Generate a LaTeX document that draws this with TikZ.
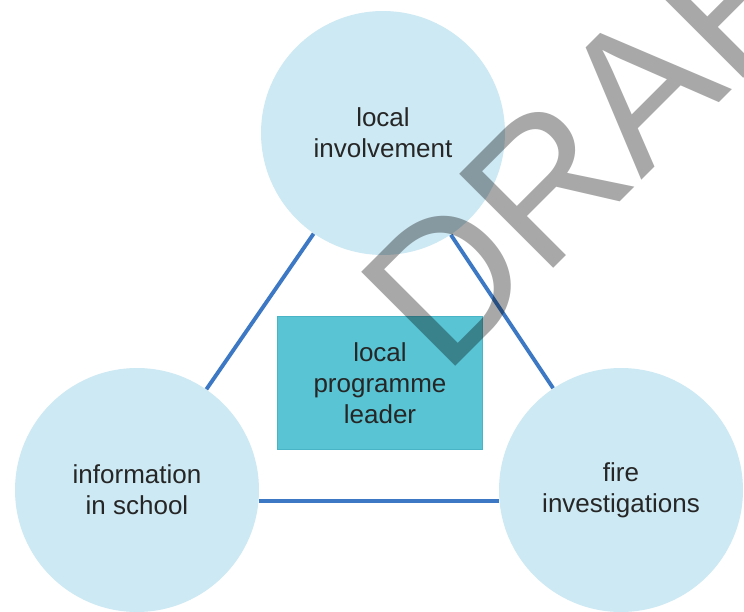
\documentclass[tikz,border=0pt]{standalone}
\usepackage{fontspec}
\setmainfont{Liberation Sans}
\usepackage{tikz}
\usetikzlibrary{positioning}
\definecolor{bubblefill}{RGB}{205,233,243}
\definecolor{leaderfill}{RGB}{88,196,212}
\definecolor{leaderedge}{RGB}{72,180,198}
\definecolor{linkblue}{RGB}{60,120,196}
\definecolor{draftgray}{RGB}{168,168,168}
\tikzstyle{topic} = [circle, minimum size=4.88cm, inner sep=0pt, fill=bubblefill, text=black!85, align=center, font=\fontsize{14.8}{17.6}\selectfont]
\tikzstyle{leaderbox} = [rectangle, minimum width=4.1cm, minimum height=2.66cm, fill=leaderfill, draw=leaderedge, thin, text=black!85, align=center, font=\fontsize{14.8}{17.6}\selectfont]
\tikzstyle{link} = [line width=2.2pt, color=linkblue]
\tikzstyle{watermark} = [inner sep=0pt, text=draftgray, font=\fontsize{110}{110}\selectfont]

\begin{document}
\begin{tikzpicture}[x=0.02cm, y=-0.02cm]
\useasboundingbox (0,0) rectangle (744,612);
\clip (0,0) rectangle (744,612);
\fill[white] (0,0) rectangle (744,612);

% Three circles
\node[topic] (involve) at (383,133) {local\\involvement};
\node[topic] (school) at (137,490) {information\\in school};
\node[topic] (fire) at (621,490) {fire\\investigations};

% Centre box
\node[leaderbox] (leader) at (380,383) {local\\programme\\leader};

% Links
\draw[link] (involve) -- (school);
\draw[link] (involve) -- (fire);
\draw[link] (school.-5) -- (fire.185);

% Watermark
\begin{scope}[blend mode=multiply]
\node[watermark, rotate=45, anchor=base west] (draft) at (444,378) {DRAFT};
\end{scope}
\end{tikzpicture}
\end{document}
